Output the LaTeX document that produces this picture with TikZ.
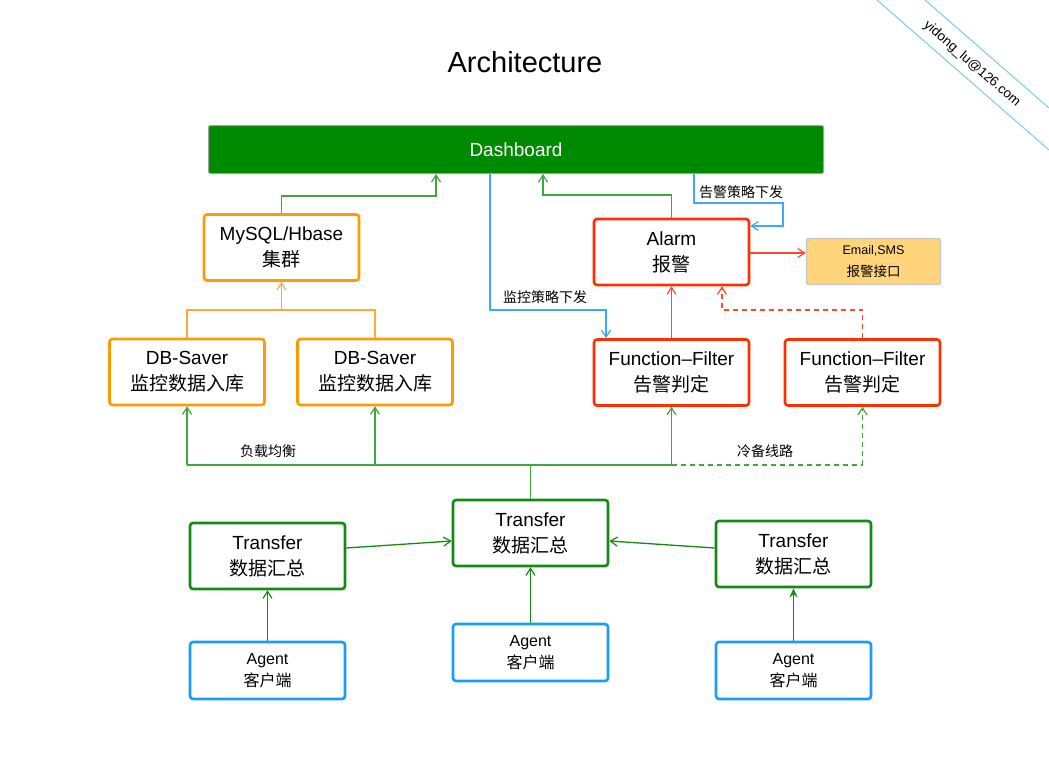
\documentclass[tikz,border=0pt]{standalone}
\usepackage{fontspec}
\setmainfont{Liberation Sans}
\newfontfamily\cjk{Noto Sans CJK SC}
\usetikzlibrary{arrows.meta}
\definecolor{gbox}{HTML}{138A13}
\definecolor{gline}{HTML}{3DA83D}
\definecolor{dashfill}{HTML}{008A00}
\definecolor{obox}{HTML}{FF9A00}
\definecolor{oline}{HTML}{FFAA33}
\definecolor{rbox}{HTML}{FF3000}
\definecolor{rline}{HTML}{FF4A2A}
\definecolor{bbox}{HTML}{1A9CFF}
\definecolor{bline}{HTML}{3AAAFF}
\definecolor{emailfill}{HTML}{FFD47A}
\definecolor{wmc}{HTML}{7ACCF5}
\begin{document}
\begin{tikzpicture}[x=1pt,y=-1pt,
  basebox/.style={draw, rounded corners=3pt, line width=2.6pt, fill=white, align=center,
    inner sep=0pt, minimum width=155pt, minimum height=66pt, font=\fontsize{19}{26}\selectfont},
  orangebox/.style={basebox, draw=obox},
  redbox/.style={basebox, draw=rbox},
  greenbox/.style={basebox, draw=gbox},
  agentbox/.style={basebox, draw=bbox, minimum height=57pt, font=\fontsize{16}{22}\selectfont},
  tip/.style={-{Straight Barb[length=7pt,width=9pt,line width=1.2pt]}},
  conn/.style={line width=1.3pt},
  gconn/.style={conn, draw=gline},
  oconn/.style={conn, draw=oline},
  rconn/.style={conn, draw=rline},
  bconn/.style={conn, draw=bline},
  lbl/.style={font=\fontsize{14}{16}\selectfont\cjk, inner sep=0pt},
  wm/.style={draw=wmc, line width=1pt}
]
\useasboundingbox (0,0) rectangle (1049,768);
\fill[white] (0,0) rectangle (1049,768);

% watermark
\draw[wm] (877,0) -- (1049,150);
\draw[wm] (925,0) -- (1049,108);
\node[rotate=-41, font=\fontsize{13.5}{15}\selectfont, inner sep=0pt] (wmtext) at (972,64) {yidong\_lu@126.com};

% title
\node[font=\fontsize{29}{32}\selectfont] (title) at (525,62) {Architecture};

% dashboard
\node[draw={rgb,255:red,160;green,160;blue,160}, fill=dashfill, rounded corners=2pt, line width=1pt,
  minimum width=615pt, minimum height=48pt, inner sep=0pt, text=white,
  font=\fontsize{19}{22}\selectfont] (dash) at (516,149.5) {Dashboard};

% storage
\node[orangebox] (mysql) at (281.5,247.5) {MySQL/Hbase\\{\cjk 集群}};
\node[orangebox] (db1) at (187,372) {DB-Saver\\{\cjk 监控数据入库}};
\node[orangebox] (db2) at (375,372) {DB-Saver\\{\cjk 监控数据入库}};

% alarm
\node[redbox] (alarm) at (671.5,252) {Alarm\\{\cjk 报警}};
\node[redbox] (ff1) at (671.5,372.5) {Function{\textendash}Filter\\{\cjk 告警判定}};
\node[redbox] (ff2) at (862.5,372.5) {Function{\textendash}Filter\\{\cjk 告警判定}};
\node[draw={rgb,255:red,200;green,200;blue,200}, fill=emailfill, rounded corners=2pt, line width=1.3pt,
  minimum width=134pt, minimum height=46pt, inner sep=0pt, align=center,
  font=\fontsize{12.5}{22}\selectfont] (email) at (873.5,261.5) {Email,SMS\\{\cjk\fontsize{13.5}{16}\selectfont 报警接口}};

% transfers
\node[greenbox] (tc) at (530.5,533) {Transfer\\{\cjk 数据汇总}};
\node[greenbox] (tl) at (267.5,556) {Transfer\\{\cjk 数据汇总}};
\node[greenbox] (tr) at (793.5,554) {Transfer\\{\cjk 数据汇总}};

% agents
\node[agentbox] (al) at (267.5,670.5) {Agent\\{\cjk 客户端}};
\node[agentbox] (ac) at (530.5,652.5) {Agent\\{\cjk 客户端}};
\node[agentbox] (ar) at (793.5,670.5) {Agent\\{\cjk 客户端}};

% to dashboard
\draw[gconn, tip] (mysql.north) |- (436,196) -- (436,196 |- dash.south);
\draw[gconn, tip] (alarm.north) |- (543,195) -- (543,195 |- dash.south);

% strategy distribution
\draw[bconn, tip] (490,0 |- dash.south) |- (606,310) -- (606,310 |- ff1.north);
\node[lbl] (lbl1) at (545,297) {监控策略下发};
\draw[bconn, tip] (694,0 |- dash.south) |- (783,203) |- (alarm.east |- 0,226);
\node[lbl] (lbl2) at (741,192) {告警策略下发};

% alarm outputs
\draw[rconn, tip] (alarm.east |- 0,253) -- (email.west |- 0,253);
\draw[rconn, tip] (ff1.north) -- (alarm.south);
\draw[rconn, tip, dashed, dash pattern=on 5pt off 4pt] (ff2.north) |- (722,310) -- (722,310 |- alarm.south);

% db savers to mysql
\draw[oconn] (db1.north) |- (375,310) -- (db2.north);
\draw[oconn, tip] (mysql.south |- 0,310) -- (mysql.south);

% transfer bus
\draw[gconn] (tc.north) -- (tc.north |- 0,465);
\draw[gconn] (db1.south |- 0,465) -- (ff1.south |- 0,465);
\draw[gconn, dashed, dash pattern=on 5pt off 4pt] (ff1.south |- 0,465) -- (ff2.south |- 0,465);
\draw[gconn, tip] (db1.south |- 0,465) -- (db1.south);
\draw[gconn, tip] (db2.south |- 0,465) -- (db2.south);
\draw[gconn, tip] (ff1.south |- 0,465) -- (ff1.south);
\draw[gconn, tip, dashed, dash pattern=on 5pt off 4pt] (ff2.south |- 0,465) -- (ff2.south);
\node[lbl] (lbl3) at (268,451) {负载均衡};
\node[lbl] (lbl4) at (765,451) {冷备线路};

% transfers to central transfer
\draw[gconn, tip, draw=gbox] (tl.east |- 0,548) -- (tc.west |- 0,541);
\draw[gconn, tip, draw=gbox] (tr.west |- 0,548) -- (tc.east |- 0,541);

% agents to transfers
\draw[gconn, tip, draw=gbox, line width=1pt] (al.north) -- (tl.south);
\draw[gconn, tip, draw=gbox, line width=1pt] (ac.north) -- (tc.south);
\draw[gconn, draw=gbox, line width=1.3pt, -{Stealth[length=9pt,width=8pt]}] (ar.north) -- (tr.south);
\end{tikzpicture}
\end{document}
